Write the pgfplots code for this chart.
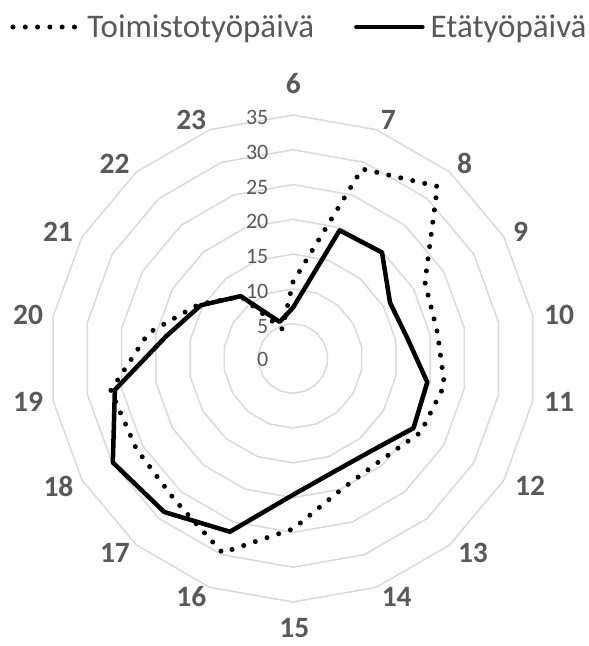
\documentclass[border=0pt]{standalone}
\usepackage{pgfplots}
\usepackage{pgfplotstable}
\pgfplotsset{compat=1.18}
\usepackage{fontspec}
\setmainfont{Carlito}
\definecolor{txt}{HTML}{595959}
\definecolor{ring}{HTML}{D9D9D9}

% hour, angle (deg, 6 at top, clockwise), office day, remote day
\pgfplotstableread{
hour ang office remote
6 90 11.0 7.3
7 70 29.0 19.6
8 50 32.3 19.9
9 30 21.9 16.1
10 10 21.1 16.7
11 -10 22.1 19.6
12 -30 21.2 20.0
13 -50 19.3 17.4
14 -70 20.1 17.3
15 -90 24.5 19.6
16 -110 29.7 26.5
17 -130 26.5 28.8
18 -150 26.0 29.9
19 -170 26.6 26.0
20 -190 21.1 18.5
21 -210 15.6 15.3
22 -230 11.6 11.7
23 -250 4.5 5.6
6 -270 11.0 7.3
}\datatable

\begin{document}
\begin{tikzpicture}
\useasboundingbox (-293pt,-287.5pt) rectangle (296pt,358.5pt);
\begin{axis}[
  anchor=origin, at={(0pt,0pt)},
  x=6.957pt, y=6.957pt,
  xmin=-42, xmax=42, ymin=-42, ymax=52,
  hide axis, clip=false,
  legend columns=2,
  legend image code/.code={\draw[#1] (0pt,0pt) -- (66pt,0pt);},
  legend style={draw=none, fill=none, inner sep=0pt, outer sep=0pt,
    at={(axis cs:-40.61,47.65)}, anchor=west,
    font=\fontsize{33}{39}\selectfont, text=txt,
    nodes={inner sep=0pt},
    /tikz/every odd column/.append style={column sep=6pt},
    /tikz/every even column/.append style={column sep=40pt}},
]
\pgfplotsinvokeforeach{5,10,15,20,25,30,35}{
  \addplot[ring, line width=1.5pt, line join=miter, data cs=polar, forget plot]
    coordinates {(90,#1)(70,#1)(50,#1)(30,#1)(10,#1)(-10,#1)(-30,#1)(-50,#1)(-70,#1)
      (-90,#1)(-110,#1)(-130,#1)(-150,#1)(-170,#1)(-190,#1)(-210,#1)(-230,#1)(-250,#1)(-270,#1)};
}
\addplot[black, line width=5pt, line cap=round, dash pattern=on 0pt off 12.3pt, data cs=polar]
  table[x=ang, y=office] {\datatable};
\addlegendentry{Toimistotyöpäivä}
\addplot[black, line width=4.5pt, line cap=round, line join=round, data cs=polar]
  table[x=ang, y=remote] {\datatable};
\addlegendentry{Etätyöpäivä}

% radial value labels
\begin{scope}[every node/.style={anchor=east, inner sep=0pt, text=txt, font=\fontsize{22}{26}\selectfont}]
\node at (axis cs:-3.52,-0.15) {0};
\node at (axis cs:-3.52,4.6) {5};
\node at (axis cs:-3.52,9.65) {10};
\node at (axis cs:-3.52,14.65) {15};
\node at (axis cs:-3.52,19.65) {20};
\node at (axis cs:-3.52,24.65) {25};
\node at (axis cs:-3.52,29.65) {30};
\node at (axis cs:-3.52,34.65) {35};
\end{scope}

% category labels
\begin{scope}[every node/.style={anchor=center, inner sep=0pt, text=txt, font=\fontsize{29.5}{35}\selectfont\bfseries}]
\node at (axis cs:0.04,39.46) {6};
\node at (axis cs:13.70,34.28) {7};
\node at (axis cs:24.68,28.03) {8};
\node at (axis cs:32.70,18.18) {9};
\node at (axis cs:38.24,6.25) {10};
\node at (axis cs:38.24,-6.25) {11};
\node at (axis cs:34.07,-18.33) {12};
\node at (axis cs:25.87,-27.89) {13};
\node at (axis cs:14.91,-34.24) {14};
\node at (axis cs:0.19,-38.7) {15};
\node at (axis cs:-14.62,-34.24) {16};
\node at (axis cs:-25.59,-27.89) {17};
\node at (axis cs:-33.71,-18.33) {18};
\node at (axis cs:-38.09,-6.25) {19};
\node at (axis cs:-38.09,6.25) {20};
\node at (axis cs:-33.78,18.18) {21};
\node at (axis cs:-25.63,27.96) {22};
\node at (axis cs:-14.63,34.28) {23};
\end{scope}
\end{axis}
\end{tikzpicture}
\end{document}
